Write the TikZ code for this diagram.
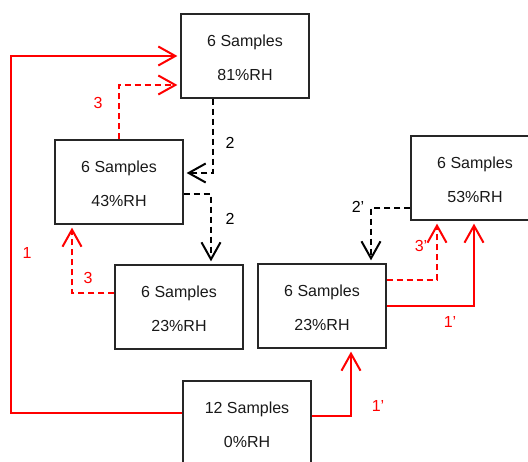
\documentclass[tikz,border=0pt]{standalone}
\usepackage{fontspec}
\setmainfont{Liberation Sans}
\usetikzlibrary{arrows.meta}
\newcommand\boxtext[3]{%
  \node[txt] (#1-t1) at ([yshift=9.3pt]#1.center) {#2};
  \node[txt] (#1-t2) at ([yshift=-24.7pt]#1.center) {#3};}
\begin{document}
\begin{tikzpicture}[x=1pt,y=-1pt,
  box/.style={draw=black!85, line width=1.3pt, minimum width=128pt, minimum height=84pt, inner sep=0pt},
  txt/.style={anchor=base, inner sep=0pt, font=\fontsize{16}{19}\selectfont, text=black!90},
  lbl/.style={inner sep=0pt, font=\fontsize{16}{19}\selectfont},
  tip/.style={-{Straight Barb[length=17pt,width=19pt,sharp]}, shorten >=3pt},
  wire/.style={line width=2pt, tip},
  redsolid/.style={wire, draw=red},
  reddash/.style={wire, draw=red, dash pattern=on 6pt off 4pt},
  blackdash/.style={wire, draw=black, dash pattern=on 6pt off 4pt},
]
\useasboundingbox (0,0) rectangle (528,462);
\clip (0,0) rectangle (528,462);

% chambers
\node[box] (A) at (245,56) {};
\node[box] (B) at (119,182) {};
\node[box] (C) at (179,307) {};
\node[box] (D) at (322,306) {};
\node[box] (E) at (475,178) {};
\node[box] (F) at (247,423) {};

\boxtext{A}{6 Samples}{81\%RH}
\boxtext{B}{6 Samples}{43\%RH}
\boxtext{C}{6 Samples}{23\%RH}
\boxtext{D}{6 Samples}{23\%RH}
\boxtext{E}{6 Samples}{53\%RH}
\boxtext{F}{12 Samples}{0\%RH}

% transfers
\draw[redsolid] ([yshift=10pt]F.west) -- ++(-171,0) |- (A.west);
\draw[reddash] (B.north) |- ([yshift=-29pt]A.west);
\draw[blackdash] ([xshift=-32pt]A.south) |- ([yshift=9pt]B.east);
\draw[blackdash] ([yshift=-12pt]B.east) -| ([xshift=32pt]C.north);
\draw[reddash] ([yshift=14pt]C.west) -| ([xshift=-47pt]B.south);
\draw[blackdash] ([yshift=-30pt]E.west) -| ([xshift=49pt]D.north);
\draw[reddash] ([yshift=26pt]D.east) -| ([xshift=-38pt]E.south);
\draw[redsolid] (D.east) -| ([xshift=-1pt]E.south);
\draw[redsolid] ([yshift=7pt]F.east) -| ([xshift=29pt]D.south);

% step labels
\node[lbl, text=red] (l1) at (27,253) {1};
\node[lbl, text=red] (l3a) at (98,103) {3};
\node[lbl, text=red] (l3b) at (88,278) {3};
\node[lbl] (l2a) at (230,143) {2};
\node[lbl] (l2b) at (230,219) {2};
\node[lbl] (l2p) at (358,207) {2'};
\node[lbl, text=red] (l3p) at (421,246) {3'};
\node[lbl, text=red] (l1pa) at (450,322) {1'};
\node[lbl, text=red] (l1pb) at (378,406) {1'};
\end{tikzpicture}
\end{document}
